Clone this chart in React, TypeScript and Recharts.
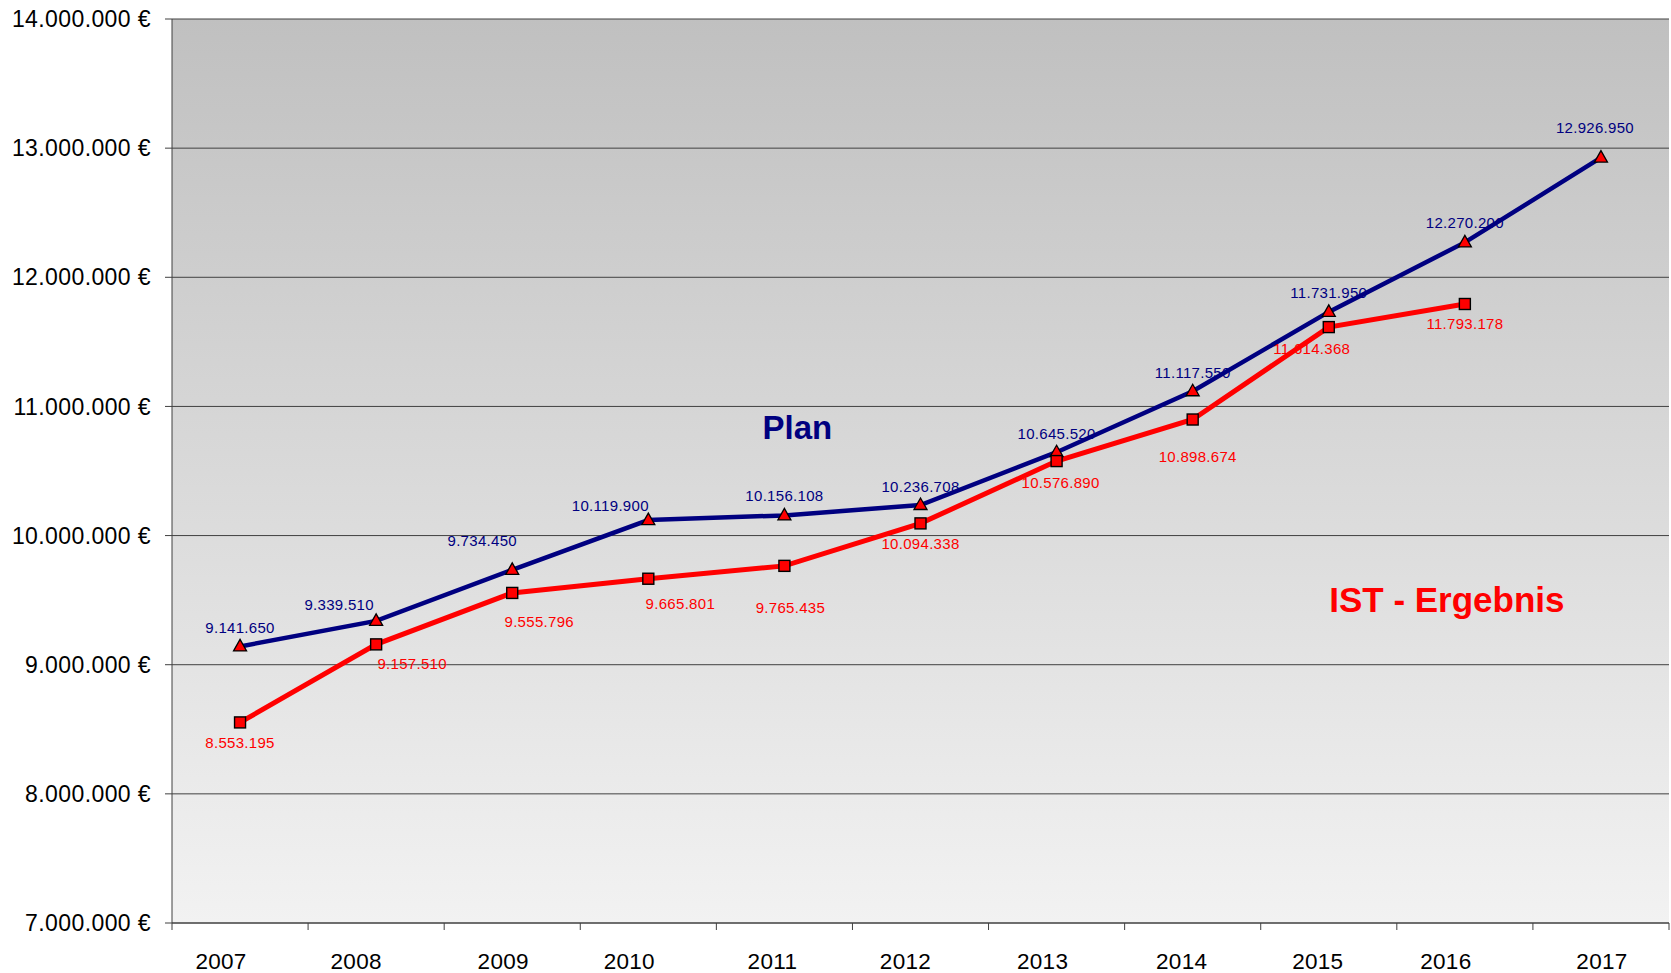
import { LineChart, Line, XAxis, YAxis, CartesianGrid, LabelList, ReferenceDot } from "recharts";

const years = ["2007", "2008", "2009", "2010", "2011", "2012", "2013", "2014", "2015", "2016", "2017"];
const planValues = [9141650, 9339510, 9734450, 10119900, 10156108, 10236708, 10645520, 11117550, 11731950, 12270200, 12926950];
const istValues = [8553195, 9157510, 9555796, 9665801, 9765435, 10094338, 10576890, 10898674, 11614368, 11793178, null];
const yTicks = [7000000, 8000000, 9000000, 10000000, 11000000, 12000000, 13000000, 14000000];

// little nudges so labels sit where the original put them
const planLabelNudge = [[0, -19], [-37, -16], [-30, -29], [-38, -15], [0, -20], [0, -19], [0, -19], [0, -19], [0, -19], [0, -20], [-6, -30]];
const istLabelNudge = [[0, 20], [36, 19], [27, 29], [32, 25], [6, 42], [0, 20], [4, 21], [5, 37], [-17, 21], [0, 20]];
const yearLabelNudge = [-19, -20, -9, -19, -12, -15, -14, -11, -11, -19, 1];

const data = years.map((year, i) => ({ year, plan: planValues[i], ist: istValues[i] }));

const FONT = '"Liberation Sans", Arial, sans-serif';
const NAVY = "#000080";
const RED = "#ff0000";
const GRID = "#404040";

const fmt = (v: number) => String(v).replace(/\B(?=(\d{3})+(?!\d))/g, ".");

function TriangleDot(props: any) {
  const { cx, cy } = props;
  if (cx == null || cy == null) return null;
  return (
    <polygon
      points={`${cx},${cy - 7} ${cx - 6.5},${cy + 4.5} ${cx + 6.5},${cy + 4.5}`}
      fill={RED}
      stroke="#000"
      strokeWidth={1.3}
    />
  );
}

function SquareDot(props: any) {
  const { cx, cy } = props;
  if (cx == null || cy == null) return null;
  return <rect x={cx - 5.5} y={cy - 5.5} width={11} height={11} fill={RED} stroke="#000" strokeWidth={1.4} />;
}

const makeLabel = (nudge: number[][], color: string) => (props: any) => {
  const { x, y, value, index } = props;
  if (value == null || x == null || y == null) return null;
  const [dx, dy] = nudge[index] || [0, 0];
  return (
    <text
      x={x + dx}
      y={y + dy}
      textAnchor="middle"
      dominantBaseline="central"
      fill={color}
      fontSize={15}
      letterSpacing={0.3}
      fontFamily={FONT}
    >
      {fmt(value)}
    </text>
  );
};

function YearTick(props: any) {
  const { x, y, payload, index } = props;
  const half = payload?.offset || 68;
  return (
    <g>
      <line x1={x - half} x2={x - half} y1={y - 7} y2={y} stroke={GRID} />
      {index === years.length - 1 && <line x1={x + half} x2={x + half} y1={y - 7} y2={y} stroke={GRID} />}
      <text
        x={x + (yearLabelNudge[index] || 0)}
        y={y + 39}
        textAnchor="middle"
        fill="#000"
        fontSize={22.5}
        letterSpacing={0.3}
        fontFamily={FONT}
      >
        {payload.value}
      </text>
    </g>
  );
}

export default function App() {
  return (
    <div style={{ position: "absolute", left: 0, top: 0, background: "#fff" }}>
      <LineChart width={1671} height={973} data={data} margin={{ top: 19, right: 2, bottom: 0, left: 0 }}>
        <defs>
          <linearGradient id="bgGrad" x1="0" y1="0" x2="0" y2="1">
            <stop offset="0%" stopColor="#c0c0c0" />
            <stop offset="100%" stopColor="#f2f2f2" />
          </linearGradient>
        </defs>
        <CartesianGrid vertical={false} stroke={GRID} fill="url(#bgGrad)" fillOpacity={1} />
        <XAxis
          dataKey="year"
          scale="band"
          height={50}
          tickSize={7}
          tickMargin={0}
          tickLine={false}
          axisLine={{ stroke: GRID }}
          interval={0}
          tick={<YearTick />}
        />
        <YAxis
          domain={[7000000, 14000000]}
          ticks={yTicks}
          interval={0}
          width={172}
          tickSize={7}
          tickMargin={14}
          axisLine={{ stroke: GRID }}
          tickLine={{ stroke: GRID }}
          tickFormatter={(v: number) => `${fmt(v)} €`}
          tick={{ fill: "#000", fontSize: 23, fontFamily: FONT, letterSpacing: 0.4 }}
        />
        <YAxis
          yAxisId="r"
          orientation="right"
          width={0}
          domain={[7000000, 14000000]}
          tick={false}
          tickLine={false}
          axisLine={{ stroke: "#a0a0a0" }}
        />
        {/* labels first so the lines run over them, as in the original */}
        <Line dataKey="plan" stroke="none" dot={false} activeDot={false} legendType="none" isAnimationActive={false}>
          <LabelList dataKey="plan" content={makeLabel(planLabelNudge, NAVY)} />
        </Line>
        <Line dataKey="ist" stroke="none" dot={false} activeDot={false} legendType="none" isAnimationActive={false}>
          <LabelList dataKey="ist" content={makeLabel(istLabelNudge, RED)} />
        </Line>
        <Line
          dataKey="plan"
          stroke={NAVY}
          strokeWidth={4.5}
          dot={(p: any) => <TriangleDot key={`p${p.index}`} {...p} />}
          activeDot={false}
          isAnimationActive={false}
        />
        <Line
          dataKey="ist"
          stroke={RED}
          strokeWidth={5}
          dot={(p: any) => <SquareDot key={`i${p.index}`} {...p} />}
          activeDot={false}
          isAnimationActive={false}
        />
        <ReferenceDot
          x="2011"
          y={10840000}
          r={0}
          fill="none"
          stroke="none"
          label={{ value: "Plan", position: "center", fill: NAVY, fontSize: 33, fontWeight: "bold", fontFamily: FONT, dx: 13 }}
        />
        <ReferenceDot
          x="2016"
          y={9501000}
          r={0}
          fill="none"
          stroke="none"
          label={{ value: "IST - Ergebnis", position: "center", fill: RED, fontSize: 35, fontWeight: "bold", fontFamily: FONT, dx: -18 }}
        />
      </LineChart>
    </div>
  );
}
